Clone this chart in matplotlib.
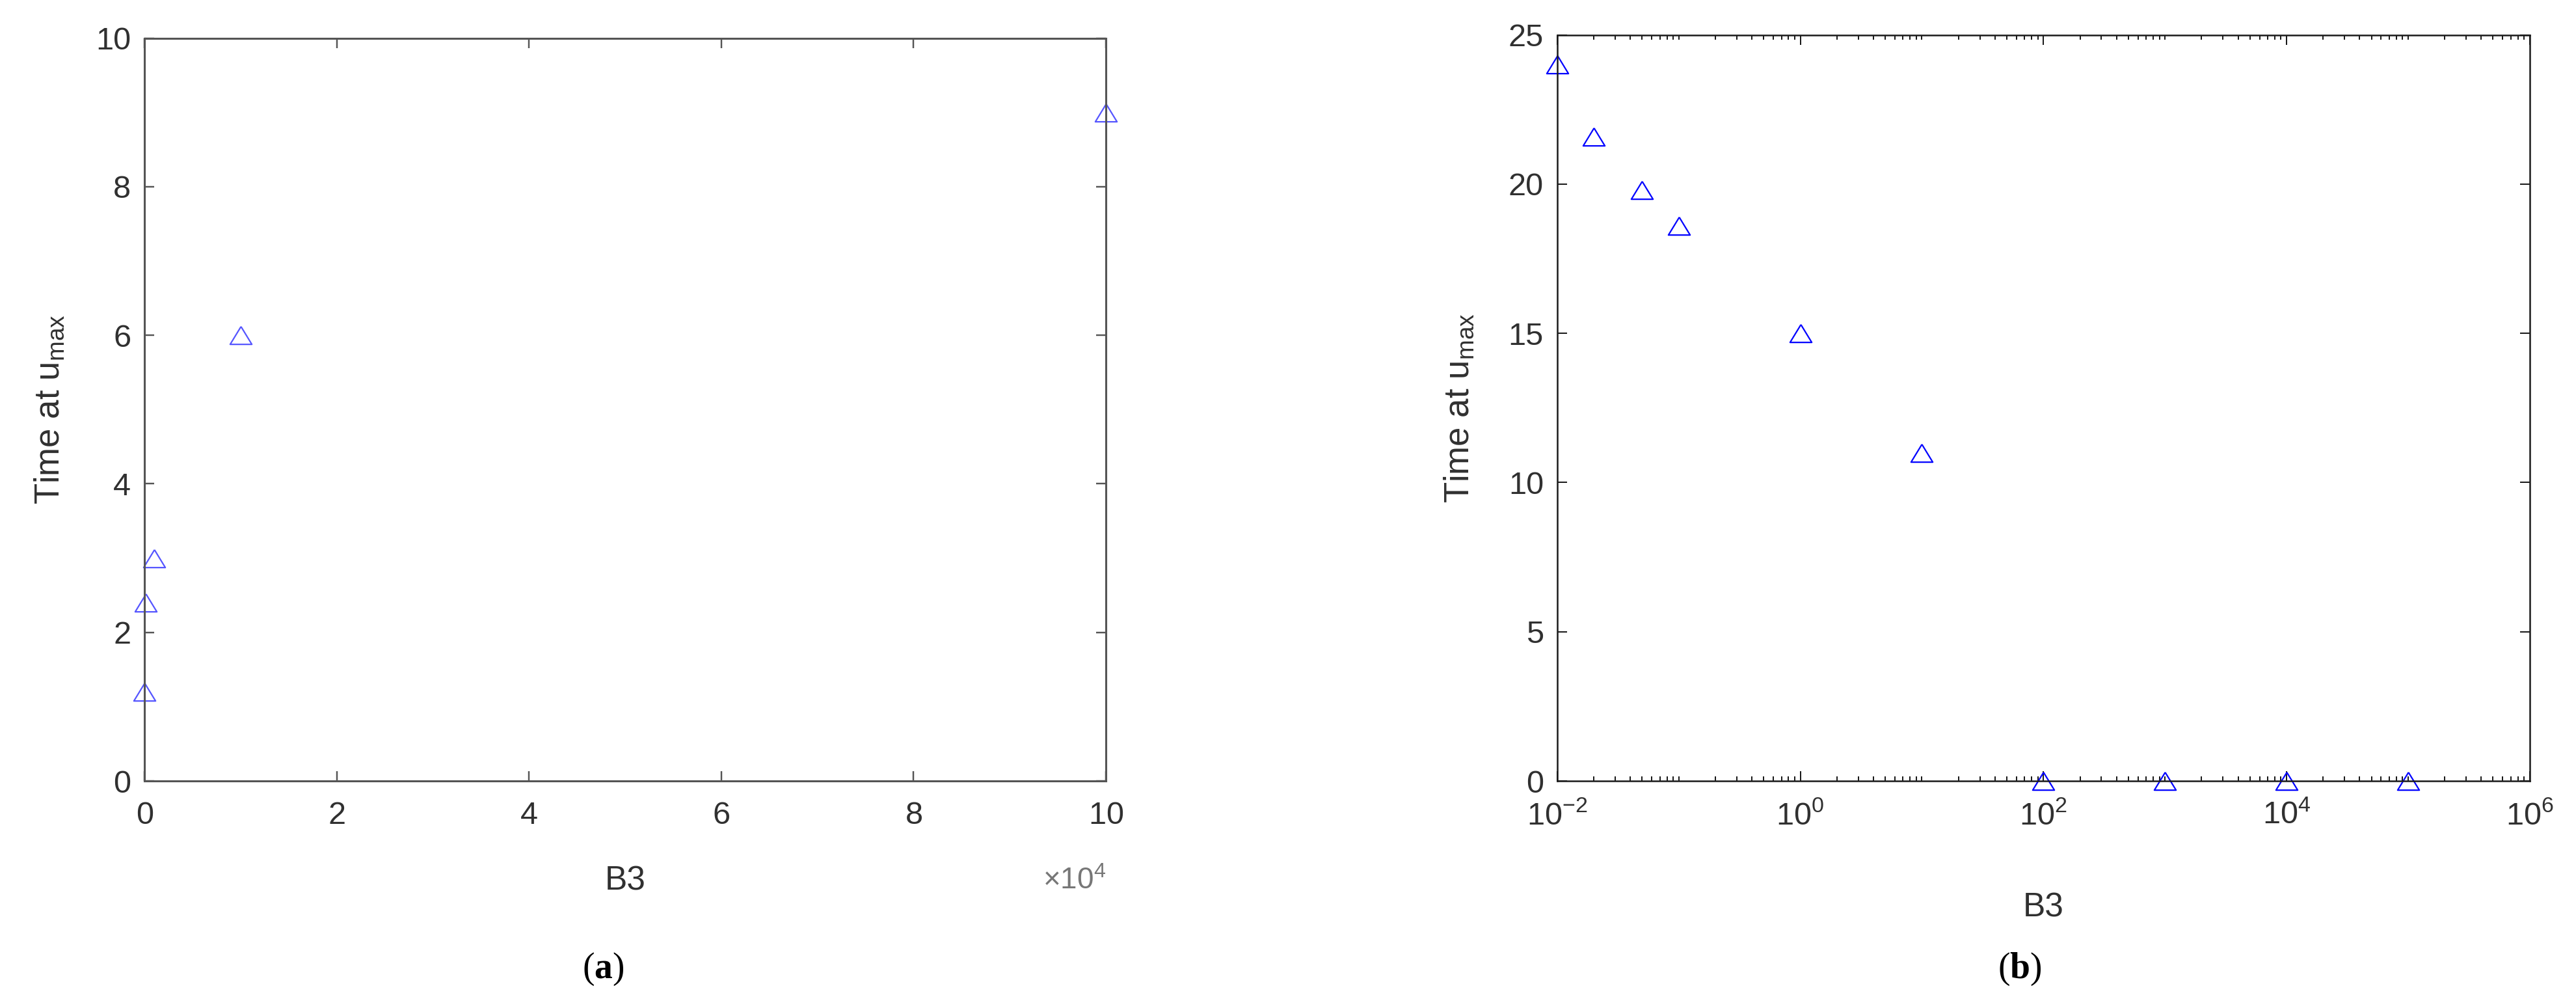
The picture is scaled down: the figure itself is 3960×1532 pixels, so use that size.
import numpy as np
import matplotlib
matplotlib.use('Agg')
import matplotlib.pyplot as plt
from matplotlib.ticker import LogLocator, NullFormatter, ScalarFormatter

# panel (a): linear B3 axis
b3_lin = [10, 100, 1000, 10000, 100000]
t_lin = [1.2, 2.4, 3.0, 6.0, 9.0]

# panel (b): log B3 axis
b3_log = [0.01, 0.02, 0.05, 0.1, 1, 10, 100, 1000, 10000, 100000]
t_log = [24.0, 21.6, 19.8, 18.6, 15.0, 11.0, 0.0, 0.0, 0.0, 0.0]

plt.rcParams['font.family'] = ['Liberation Sans', 'DejaVu Sans']
plt.rcParams['mathtext.fontset'] = 'custom'
plt.rcParams['mathtext.rm'] = 'Liberation Sans'
plt.rcParams['mathtext.it'] = 'Liberation Sans:italic'
plt.rcParams['mathtext.bf'] = 'Liberation Serif:bold'
plt.rcParams['mathtext.default'] = 'regular'

TXT = '#303030'
tri = [(0, 1), (-1.22, -1), (1.22, -1), (0, 1)]

fig = plt.figure(figsize=(39.6, 15.32), dpi=100)
ax1 = fig.add_axes([0.0561, 0.2167, 0.3732, 0.745])
ax2 = fig.add_axes([0.6045, 0.2167, 0.3775, 0.7483])


def style(ax, spine_col, lw):
    for s in ax.spines.values():
        s.set_color(spine_col)
        s.set_linewidth(lw)
    ax.tick_params(which='both', direction='in', top=True, right=True,
                   colors=spine_col, labelcolor=TXT, labelsize=35, width=lw * 0.8)
    ax.tick_params(which='major', length=11)
    ax.tick_params(which='minor', length=5)
    ax.tick_params(axis='y', pad=15)
    ax.tick_params(axis='x', pad=22)


# (a)
ax1.plot(b3_lin, t_lin, linestyle='none', marker=tri, markersize=24,
         markerfacecolor='none', markeredgecolor='#5555ff', markeredgewidth=1.6,
         clip_on=False)
ax1.set_xlim(0, 100000)
ax1.set_ylim(0, 10)
ax1.set_xticks(np.arange(0, 100001, 20000))
ax1.set_yticks(np.arange(0, 11, 2))
fmt = ScalarFormatter(useMathText=True)
fmt.set_powerlimits((4, 4))
ax1.xaxis.set_major_formatter(fmt)
style(ax1, '#555555', 2.2)
ax1.xaxis.get_offset_text().set_visible(False)
ax1.text(1.0, -0.135, r'$\times10^{4}$', transform=ax1.transAxes, ha='right',
         va='center', fontsize=33, color='#777777')
ax1.set_xlabel('B3', fontsize=37, color=TXT, va='center')
ax1.xaxis.set_label_coords(0.5, -0.135)
ax1.set_ylabel('Time at u$_{max}$', fontsize=38, color=TXT, va='center')
ax1.yaxis.set_label_coords(-0.099, 0.5)

# (b)
ax2.plot(b3_log, t_log, linestyle='none', marker=tri, markersize=24,
         markerfacecolor='none', markeredgecolor='#0000ff', markeredgewidth=1.6,
         clip_on=False)
ax2.set_xscale('log')
ax2.set_xlim(1e-2, 1e6)
ax2.set_ylim(0, 25)
ax2.set_xticks([1e-2, 1e0, 1e2, 1e4, 1e6])
ax2.xaxis.set_minor_locator(LogLocator(base=10, subs=np.arange(1, 10), numticks=100))
ax2.xaxis.set_minor_formatter(NullFormatter())
ax2.set_yticks(np.arange(0, 26, 5))
style(ax2, '#1a1a1a', 1.8)
ax2.set_xlabel('B3', fontsize=37, color=TXT, va='center')
ax2.xaxis.set_label_coords(0.5, -0.17)
ax2.set_ylabel('Time at u$_{max}$', fontsize=38, color=TXT, va='center')
ax2.yaxis.set_label_coords(-0.101, 0.5)

# captions
fig.text(0.234, 0.028, r'($\mathbf{a}$)', family='Liberation Serif', fontsize=40,
         ha='center', va='center', color='black')
fig.text(0.784, 0.028, r'($\mathbf{b}$)', family='Liberation Serif', fontsize=40,
         ha='center', va='center', color='black')

fig.savefig('out.png', dpi=100)
